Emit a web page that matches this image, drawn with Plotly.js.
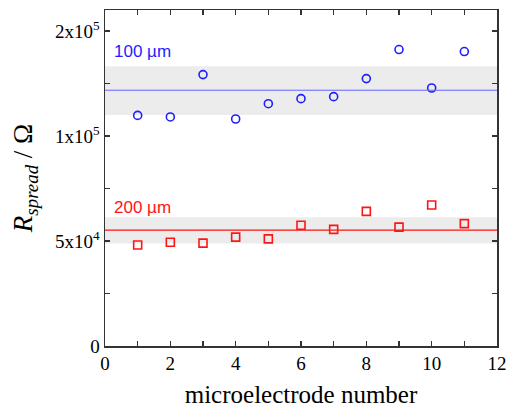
<!DOCTYPE html>
<html>
<head>
<meta charset="utf-8">
<script src="https://cdn.plot.ly/plotly-3.0.1.min.js"></script>
<style>html,body{margin:0;padding:0;background:#fff;}#chart{width:513px;height:408px;}</style>
</head>
<body>
<div id="chart"></div>
<script>
// Data
const electrodes = [1, 2, 3, 4, 5, 6, 7, 8, 9, 10, 11];
const r100 = [114600, 113400, 150000, 111900, 123800, 128000, 129700, 146100, 177000, 137300, 174700];
const r200 = [48700, 49600, 49300, 51300, 50700, 55500, 54000, 60800, 54800, 63400, 56100];
const mean100 = 135300, band100 = [114900, 158500];
const mean200 = 53700, band200 = [49200, 58500];
const yTickVals = [25000, 35360, 50000, 70710, 100000, 141420, 200000];
const yTickText = ['0', '', '5x10<sup>4</sup>', '', '1x10<sup>5</sup>', '', '2x10<sup>5</sup>'];
const xRange = [0, 12];

const blue = 'rgb(30,30,255)';
const red = 'rgb(255,20,20)';
const serif = 'Liberation Serif';

const traces = [
  {x: electrodes, y: r100, mode: 'markers', type: 'scatter',
   marker: {symbol: 'circle-open', size: 8, color: blue, line: {width: 1.6, color: blue}}},
  {x: electrodes, y: r200, mode: 'markers', type: 'scatter',
   marker: {symbol: 'square-open', size: 8, color: red, line: {width: 1.6, color: red}}}
];

const shapes = [
  {type: 'rect', xref: 'x', yref: 'y', x0: xRange[0], x1: xRange[1], y0: band100[0], y1: band100[1],
   fillcolor: '#ececec', line: {width: 0}, layer: 'below'},
  {type: 'rect', xref: 'x', yref: 'y', x0: xRange[0], x1: xRange[1], y0: band200[0], y1: band200[1],
   fillcolor: '#ececec', line: {width: 0}, layer: 'below'},
  {type: 'line', xref: 'x', yref: 'y', x0: xRange[0], x1: xRange[1], y0: mean100, y1: mean100,
   line: {color: 'rgb(100,100,255)', width: 1}},
  {type: 'line', xref: 'x', yref: 'y', x0: xRange[0], x1: xRange[1], y0: mean200, y1: mean200,
   line: {color: red, width: 1.2}}
];

const annotations = [
  {x: 0.2, y: Math.log10(band100[1]) + 0.042, xref: 'x', yref: 'y', text: '100 µm', showarrow: false,
   xanchor: 'left', yanchor: 'middle', font: {family: 'Liberation Sans', size: 17, color: blue}},
  {x: 0.2, y: Math.log10(band200[1]) + 0.029, xref: 'x', yref: 'y', text: '200 µm', showarrow: false,
   xanchor: 'left', yanchor: 'middle', font: {family: 'Liberation Sans', size: 17, color: red}}
];

const axisFont = {family: serif, size: 19, color: '#000'};

const layout = {
  width: 513, height: 408,
  margin: {l: 105, r: 16, t: 10, b: 62},
  paper_bgcolor: '#fff', plot_bgcolor: '#fff',
  showlegend: false,
  font: axisFont,
  xaxis: {
    range: xRange, dtick: 2, tick0: 0,
    showline: true, linecolor: '#333', linewidth: 1.5, mirror: 'ticks',
    ticks: 'inside', ticklen: 5, tickwidth: 1.5, tickcolor: '#333',
    minor: {dtick: 1, tick0: 0, ticks: 'inside', ticklen: 5, tickwidth: 1.5, tickcolor: '#333'},
    showgrid: false, zeroline: false,
    tickfont: axisFont,
    title: {text: 'microelectrode number', font: {family: serif, size: 25, color: '#000'}, standoff: 13}
  },
  yaxis: {
    type: 'log', range: [Math.log10(25000), Math.log10(229800)],
    tickmode: 'array', tickvals: yTickVals, ticktext: yTickText,
    showline: true, linecolor: '#333', linewidth: 1.5, mirror: 'ticks',
    ticks: 'inside', ticklen: 5, tickwidth: 1.5, tickcolor: '#333',
    showgrid: false, zeroline: false,
    tickfont: axisFont,
    title: {text: '<i>R</i><sub><i>spread</i></sub> / Ω', font: {family: serif, size: 27, color: '#000'}, standoff: 14}
  },
  shapes: shapes,
  annotations: annotations
};

Plotly.newPlot('chart', traces, layout, {staticPlot: true, displayModeBar: false});
</script>
</body>
</html>
